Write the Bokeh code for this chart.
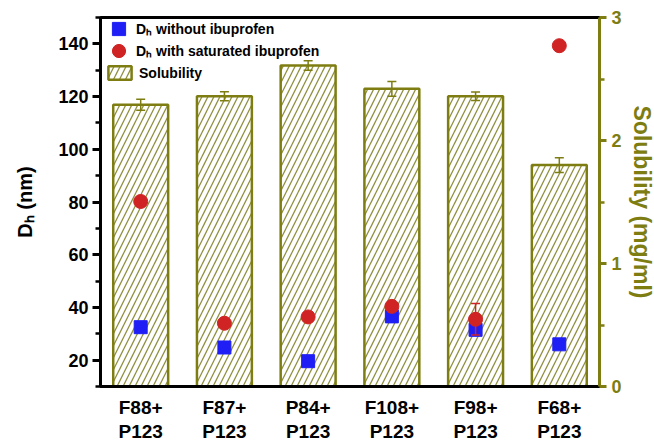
from bokeh.plotting import figure
from bokeh.models import (Range1d, LinearAxis, FixedTicker, Whisker, TeeHead,
                          ColumnDataSource, Legend, LegendItem)
from bokeh.embed import file_html
from bokeh.resources import INLINE

# ---- data ----
categories = ["F88+\nP123", "F87+\nP123", "P84+\nP123", "F108+\nP123", "F98+\nP123", "F68+\nP123"]
solubility = [2.29, 2.36, 2.61, 2.42, 2.36, 1.80]
solubility_err = [0.045, 0.037, 0.038, 0.06, 0.035, 0.06]
dh_without = [32.5, 24.8, 19.6, 36.6, 31.5, 26.0]
dh_with = [80.2, 34.0, 36.4, 40.4, 35.5, 139.3]
dh_with_err = [0, 0, 0, 0, 6.0, 0]
left_ticks = [20, 40, 60, 80, 100, 120, 140]
left_minor = [10, 30, 50, 70, 90, 110, 130, 150]
right_ticks = [0, 1, 2, 3]
right_minor = [0.5, 1.5, 2.5]

OLIVE = "#7d7d12"
HATCH = "#8f8f40"
FONT = "Liberation Sans"
FRAME_H = 369

x = list(range(1, len(categories) + 1))

p = figure(width=658, height=452, x_range=Range1d(0.52, 6.48), y_range=Range1d(10, 150),
           output_backend="svg", toolbar_location=None,
           min_border_left=100, min_border_top=17, min_border_right=59, min_border_bottom=66)
p.extra_y_ranges = {"sol": Range1d(0, 3)}
p.grid.visible = False
p.outline_line_color = "black"
p.outline_line_width = 3

# bars
bar_src = ColumnDataSource(dict(x=x, top=solubility,
                                upper=[s + e for s, e in zip(solubility, solubility_err)],
                                lower=[s - e for s, e in zip(solubility, solubility_err)]))
bars = p.vbar(x="x", top="top", bottom=0, width=0.656, source=bar_src, y_range_name="sol",
              fill_color="white", line_color=OLIVE, line_width=2.5,
              hatch_pattern="/", hatch_color=HATCH, hatch_scale=12, hatch_weight=1.3)
w = Whisker(base="x", upper="upper", lower="lower", source=bar_src, y_range_name="sol",
            line_color=OLIVE, line_width=1.5, level="overlay",
            upper_head=TeeHead(size=9, line_color=OLIVE, line_width=1.5),
            lower_head=TeeHead(size=9, line_color=OLIVE, line_width=1.5))
p.add_layout(w)

sq = p.scatter(x=x, y=dh_without, marker="square", size=13, fill_color="#1f1ff5",
               line_color="#1f1ff5")
ci = p.scatter(x=x, y=dh_with, marker="circle", size=14, fill_color="#d02424",
               line_color="#d02424")

ex = [xi for xi, e in zip(x, dh_with_err) if e > 0]
ev = [(v, e) for v, e in zip(dh_with, dh_with_err) if e > 0]
err_src = ColumnDataSource(dict(x=ex, upper=[v + e for v, e in ev], lower=[v - e for v, e in ev]))
p.add_layout(Whisker(base="x", upper="upper", lower="lower", source=err_src,
                     line_color="#d02424", line_width=1.5, level="overlay",
                     upper_head=TeeHead(size=9, line_color="#d02424", line_width=1.5),
                     lower_head=TeeHead(size=9, line_color="#d02424", line_width=1.5)))

# left axis
ya = p.yaxis[0]
ya.ticker = FixedTicker(ticks=left_ticks, minor_ticks=left_minor)
ya.axis_label = "Dₕ (nm)"
ya.axis_line_width = 3
ya.major_tick_line_width = 3
ya.minor_tick_line_width = 2.5
ya.major_tick_out = 8
ya.major_tick_in = 0
ya.minor_tick_out = 5
ya.minor_tick_in = 0
ya.major_label_text_font = FONT
ya.major_label_text_font_style = "bold"
ya.major_label_text_font_size = "18px"
ya.major_label_text_color = "black"
ya.axis_label_text_font = FONT
ya.axis_label_text_font_style = "bold"
ya.axis_label_text_font_size = "20px"
ya.axis_label_text_color = "black"
ya.axis_label_standoff = 19
ya.major_label_standoff = 4

# right axis
ra = LinearAxis(y_range_name="sol", axis_label="Solubility (mg/ml)",
                ticker=FixedTicker(ticks=right_ticks, minor_ticks=right_minor))
ra.axis_line_color = OLIVE
ra.axis_line_width = 3
ra.major_tick_line_color = OLIVE
ra.minor_tick_line_color = OLIVE
ra.major_tick_line_width = 3
ra.minor_tick_line_width = 2.5
ra.major_tick_out = 7
ra.major_tick_in = 0
ra.minor_tick_out = 5
ra.minor_tick_in = 0
ra.major_label_text_color = OLIVE
ra.major_label_text_font = FONT
ra.major_label_text_font_style = "bold"
ra.major_label_text_font_size = "18px"
ra.major_label_standoff = 5
ra.axis_label_text_color = OLIVE
ra.axis_label_text_font = FONT
ra.axis_label_text_font_style = "bold"
ra.axis_label_text_font_size = "23px"
ra.axis_label_standoff = 4
p.add_layout(ra, "right")

# bottom axis
xa = p.xaxis[0]
xa.ticker = FixedTicker(ticks=x, minor_ticks=[])
xa.major_label_overrides = {xi: c for xi, c in zip(x, categories)}
xa.axis_line_width = 3
xa.major_tick_out = 0
xa.major_tick_in = 0
xa.minor_tick_out = 0
xa.minor_tick_in = 0
xa.major_label_text_font = FONT
xa.major_label_text_font_style = "bold"
xa.major_label_text_font_size = "19px"
xa.major_label_text_color = "black"
xa.major_label_text_line_height = 1.15
xa.major_label_standoff = 10

# legends (one per entry so the marker glyphs can be drawn at full size)
common = dict(margin=0, padding=0, border_line_alpha=0, background_fill_alpha=0,
              label_text_font=FONT, label_text_font_style="bold", label_text_font_size="14px",
              label_text_color="black")
leg1 = Legend(items=[LegendItem(label="Dₕ without ibuprofen", renderers=[sq])],
              location=(2, FRAME_H - 28), glyph_width=33, glyph_height=33, label_standoff=1,
              **common)
leg2 = Legend(items=[LegendItem(label="Dₕ with saturated ibuprofen", renderers=[ci])],
              location=(2, FRAME_H - 50), glyph_width=33, glyph_height=33, label_standoff=1,
              **common)
leg3 = Legend(items=[LegendItem(label="Solubility", renderers=[bars])],
              location=(5, FRAME_H - 64), glyph_width=29, glyph_height=17, label_height=17,
              label_standoff=5, **common)
for lg in (leg1, leg2, leg3):
    p.add_layout(lg)

open("out.html", "w").write(file_html(p, INLINE))
